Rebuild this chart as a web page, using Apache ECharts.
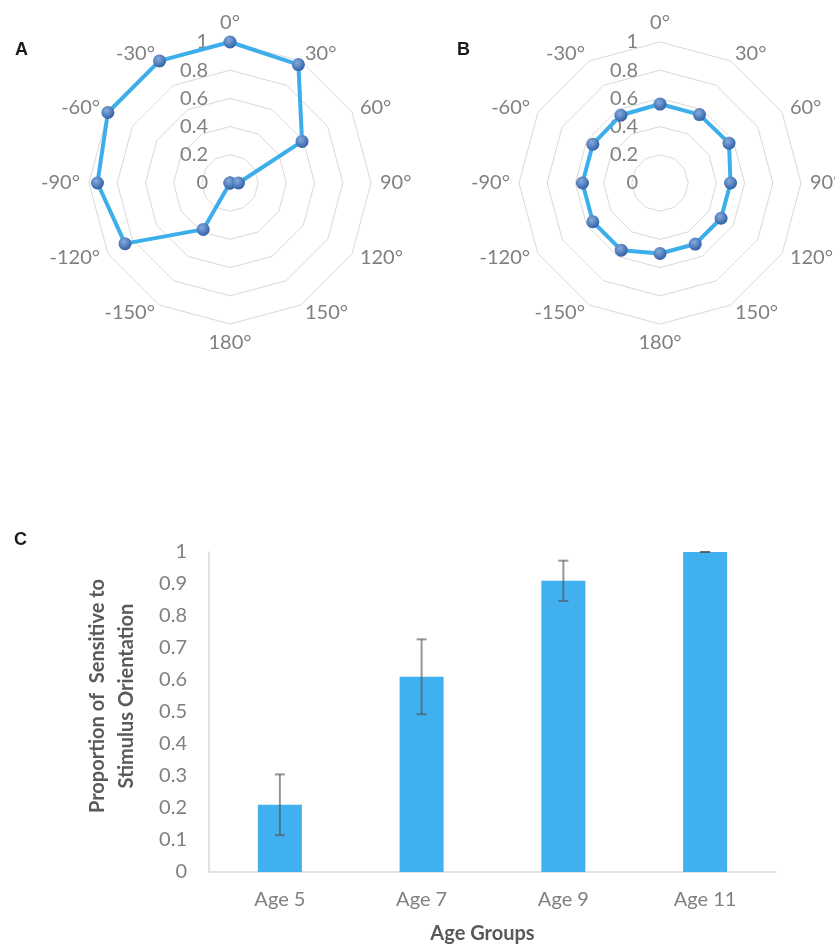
<!DOCTYPE html>
<html>
<head>
<meta charset="utf-8">
<script src="https://cdn.jsdelivr.net/npm/echarts@6/dist/echarts.min.js"></script>
<style>
  html, body { margin: 0; padding: 0; background: #fff; }
  #chart { width: 835px; height: 945px; }
</style>
</head>
<body>
<div id="chart"></div>
<script>
// Orientation axes, listed clockwise from the top
const orientations = ['0°', '30°', '60°', '90°', '120°', '150°', '180°', '-150°', '-120°', '-90°', '-60°', '-30°'];
// Panel A: sensitivity per orientation
const sensitivityA = [1.0, 0.97, 0.59, 0.06, 0, 0, 0, 0.38, 0.86, 0.94, 1.0, 1.0];
// Panel B: sensitivity per orientation
const sensitivityB = [0.56, 0.56, 0.565, 0.50, 0.50, 0.50, 0.50, 0.55, 0.55, 0.55, 0.55, 0.555];
// Panel C: proportion sensitive to stimulus orientation by age group
const ageGroups = ['Age 5', 'Age 7', 'Age 9', 'Age 11'];
const proportions = [0.21, 0.61, 0.91, 1.0];
const errors = [0.095, 0.117, 0.063, 0];

const FONT = 'Lato, "Open Sans", sans-serif';
const GREY = '#808080';

// ECharts places radar indicators counter-clockwise; reorder so they run clockwise
function clockwise(arr) {
  return [arr[0]].concat(arr.slice(1).reverse());
}

function makeIndicators() {
  return clockwise(orientations).map(function (name, i) {
    const ind = { name: name, min: 0, max: 1 };
    if (i === 0) {
      ind.axisLabel = {
        show: true, color: GREY, fontSize: 20, fontFamily: FONT, margin: 22,
        formatter: function (v) { return String(+v.toFixed(1)); }
      };
    }
    return ind;
  });
}

function radarOpt(cx) {
  return {
    center: [cx, 183],
    radius: 141,
    startAngle: 90,
    shape: 'polygon',
    splitNumber: 5,
    indicator: makeIndicators(),
    nameGap: 9,
    axisName: { color: GREY, fontSize: 20, fontFamily: FONT },
    splitLine: { lineStyle: { color: '#d9d9d9', width: 1 } },
    splitArea: { show: false },
    axisLine: { show: false },
    axisTick: { show: false },
    axisLabel: { show: false }
  };
}

const sphere = {
  type: 'radial', x: 0.4, y: 0.35, r: 0.7,
  colorStops: [{ offset: 0, color: '#86acdd' }, { offset: 1, color: '#2b5ba3' }]
};

function radarSeries(idx, values) {
  return {
    type: 'radar',
    radarIndex: idx,
    symbol: 'circle',
    symbolSize: 13,
    lineStyle: { color: '#3caee9', width: 4 },
    itemStyle: { color: sphere, borderWidth: 0 },
    data: [{ value: clockwise(values) }],
    z: 3
  };
}

const errorData = proportions.map(function (v, i) {
  return [i, v - errors[i], v + errors[i]];
});

const letterStyle = { fontSize: 18, fontWeight: 'bold', color: '#1a1a1a', fontFamily: 'Arial' };

const chart = echarts.init(document.getElementById('chart'), null, { renderer: 'canvas' });

chart.setOption({
  animation: false,
  backgroundColor: '#fff',
  title: [
    { text: 'A', left: 15, top: 41, padding: 0, textStyle: letterStyle },
    { text: 'B', left: 457, top: 41, padding: 0, textStyle: letterStyle },
    { text: 'C', left: 14, top: 531, padding: 0, textStyle: letterStyle }
  ],
  radar: [radarOpt(230), radarOpt(660)],
  grid: { left: 209, right: 59, top: 552, bottom: 73 },
  xAxis: {
    type: 'category',
    data: ageGroups,
    axisLine: { lineStyle: { color: '#d9d9d9', width: 1.5 } },
    axisTick: { show: false },
    axisLabel: { color: GREY, fontSize: 20, fontFamily: FONT, margin: 18 },
    name: 'Age Groups',
    nameLocation: 'middle',
    nameGap: 52,
    nameTextStyle: { color: '#595959', fontSize: 20, fontWeight: 'bold', fontFamily: FONT, padding: [0, 20, 0, 0] }
  },
  yAxis: {
    type: 'value',
    min: 0, max: 1, interval: 0.1,
    axisLine: { show: true, lineStyle: { color: '#d9d9d9', width: 1.5 } },
    axisTick: { show: false },
    splitLine: { show: false },
    axisLabel: {
      color: GREY, fontSize: 20, fontFamily: FONT, margin: 22,
      formatter: function (v) { return String(+v.toFixed(1)); }
    },
    name: 'Proportion of  Sensitive to\nStimulus Orientation',
    nameLocation: 'middle',
    nameRotate: 90,
    nameGap: 68,
    nameTextStyle: {
      color: '#595959', fontSize: 20, fontWeight: 'bold', fontFamily: FONT,
      lineHeight: 29, align: 'center', padding: [0, 0, 0, 32]
    }
  },
  series: [
    radarSeries(0, sensitivityA),
    radarSeries(1, sensitivityB),
    {
      type: 'bar',
      data: proportions,
      barWidth: 44,
      itemStyle: { color: '#41b0ee' },
      z: 2
    },
    {
      type: 'custom',
      data: errorData,
      z: 4,
      renderItem: function (params, api) {
        const x = api.value(0);
        const lo = api.coord([x, api.value(1)]);
        const hi = api.coord([x, api.value(2)]);
        const cap = 5;
        const style = { stroke: 'rgba(80,80,80,0.6)', lineWidth: 2 };
        return {
          type: 'group',
          children: [
            { type: 'line', shape: { x1: lo[0], y1: lo[1], x2: hi[0], y2: hi[1] }, style: style },
            { type: 'line', shape: { x1: hi[0] - cap, y1: hi[1], x2: hi[0] + cap, y2: hi[1] }, style: style },
            { type: 'line', shape: { x1: lo[0] - cap, y1: lo[1], x2: lo[0] + cap, y2: lo[1] }, style: style }
          ]
        };
      }
    }
  ]
});
</script>
</body>
</html>
